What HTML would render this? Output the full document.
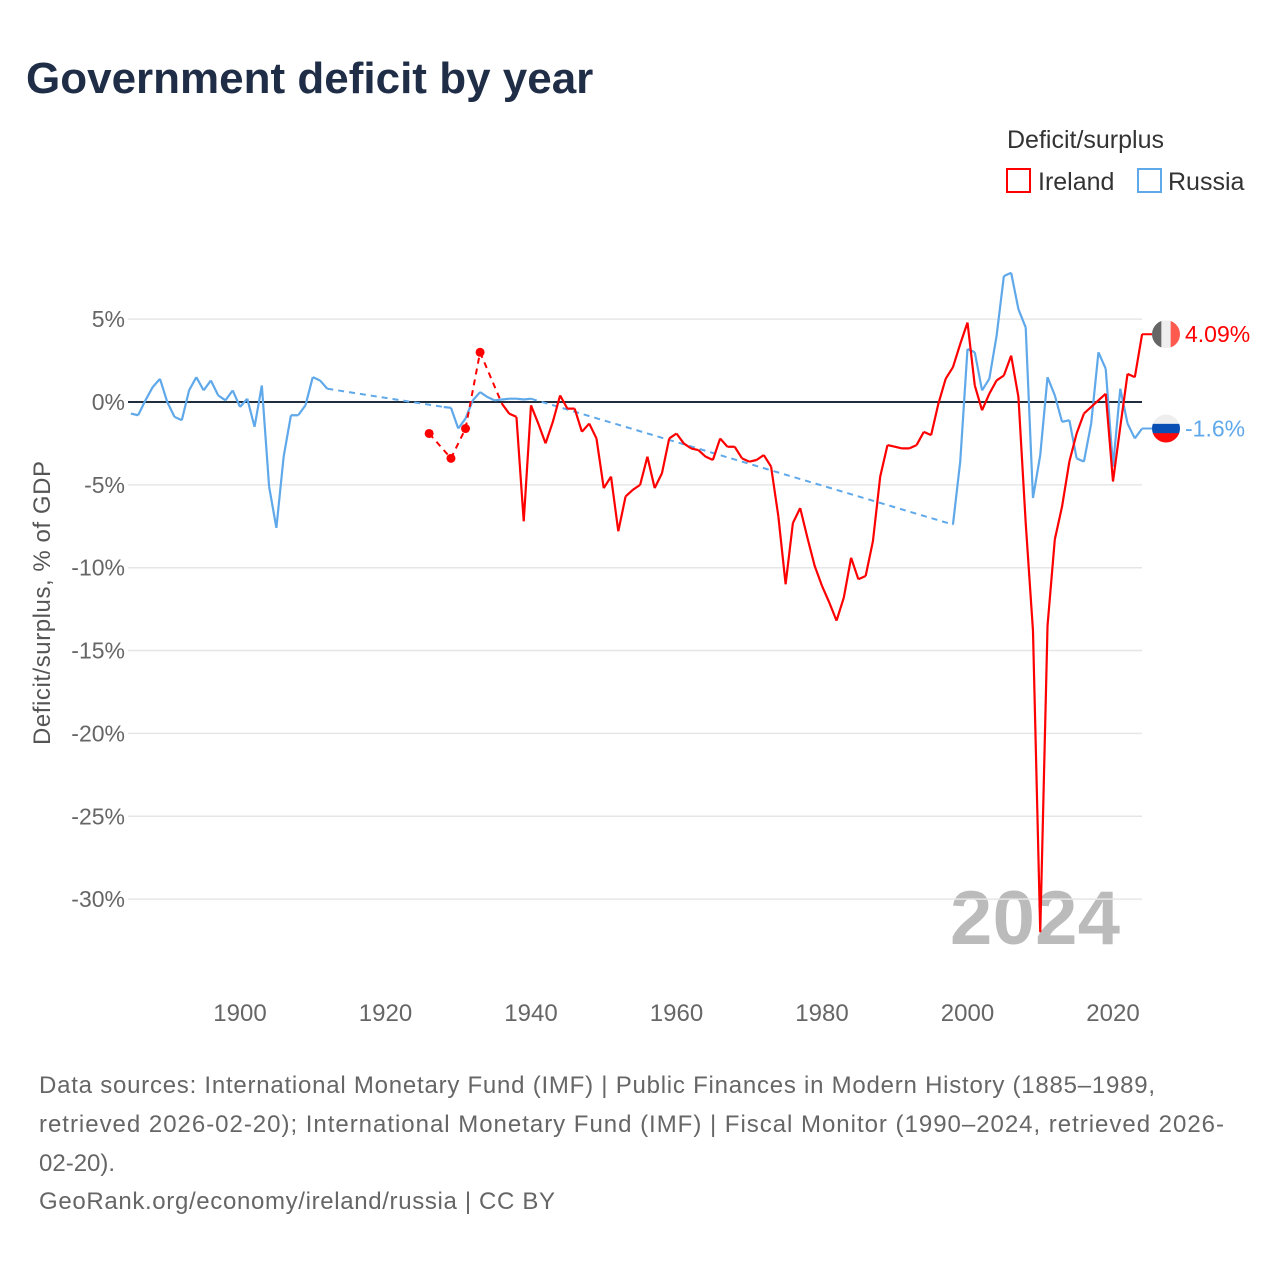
<!DOCTYPE html>
<html><head><meta charset="utf-8"><style>
body{margin:0;background:#fff;font-family:"Liberation Sans",sans-serif;}
#wrap{position:relative;width:1280px;height:1280px;overflow:hidden;}
</style></head><body>
<div id="wrap">
<svg id="chart" width="1280" height="1280" xmlns="http://www.w3.org/2000/svg">
<text x="26" y="93" font-size="44" font-weight="bold" fill="#1f2d46">Government deficit by year</text>
<text x="1007" y="148" font-size="25" fill="#333">Deficit/surplus</text>
<g><rect x="1007" y="169" width="23" height="23" fill="#fff" stroke="#ff0000" stroke-width="2"/><text x="1038" y="190" font-size="25" fill="#333">Ireland</text></g>
<g><rect x="1138" y="169" width="23" height="23" fill="#fff" stroke="#5fa8ea" stroke-width="2"/><text x="1168" y="190" font-size="25" fill="#333">Russia</text></g>
<text transform="translate(50,603) rotate(-90)" text-anchor="middle" font-size="24" fill="#555" textLength="284">Deficit/surplus, % of GDP</text>
<text x="950" y="944" font-size="76" font-weight="bold" fill="#bbb" textLength="170">2024</text>
<g id="grid"></g><g id="series"></g>
<g font-size="24" fill="#666">
<text x="39" y="1093" textLength="1116">Data sources: International Monetary Fund (IMF) | Public Finances in Modern History (1885–1989,</text>
<text x="39" y="1132" textLength="1185">retrieved 2026-02-20); International Monetary Fund (IMF) | Fiscal Monitor (1990–2024, retrieved 2026-</text>
<text x="39" y="1171">02-20).</text>
<text x="39" y="1209" textLength="516">GeoRank.org/economy/ireland/russia | CC BY</text>
</g>
</svg></div>
<script>
const yTicks=[5,0,-5,-10,-15,-20,-25,-30];
const xTicks=[1900,1920,1940,1960,1980,2000,2020];
const russiaYears=[1885,1886,1887,1888,1889,1890,1891,1892,1893,1894,1895,1896,1897,1898,1899,1900,1901,1902,1903,1904,1905,1906,1907,1908,1909,1910,1911,1912,1928,1929,1930,1931,1932,1933,1934,1935,1936,1937,1938,1939,1940,1998,1999,2000,2001,2002,2003,2004,2005,2006,2007,2008,2009,2010,2011,2012,2013,2014,2015,2016,2017,2018,2019,2020,2021,2022,2023,2024];
const russiaValues=[-0.7,-0.8,0.1,0.9,1.4,0,-0.9,-1.1,0.7,1.5,0.7,1.3,0.4,0.1,0.7,-0.3,0.2,-1.5,1.0,-5.1,-7.6,-3.3,-0.8,-0.8,-0.2,1.5,1.3,0.8,-0.3,-0.35,-1.6,-1.0,0.1,0.6,0.3,0.1,0.15,0.2,0.2,0.15,0.2,-7.4,-3.6,3.2,3.0,0.7,1.4,4.0,7.6,7.8,5.6,4.5,-5.8,-3.2,1.5,0.4,-1.2,-1.1,-3.4,-3.6,-1.3,3.0,2.0,-3.9,0.8,-1.3,-2.2,-1.6];
const irelandYears=[1926,1929,1931,1933,1936,1937,1938,1939,1940,1941,1942,1943,1944,1945,1946,1947,1948,1949,1950,1951,1952,1953,1954,1955,1956,1957,1958,1959,1960,1961,1962,1963,1964,1965,1966,1967,1968,1969,1970,1971,1972,1973,1974,1975,1976,1977,1978,1979,1980,1981,1982,1983,1984,1985,1986,1987,1988,1989,1990,1991,1992,1993,1994,1995,1996,1997,1998,1999,2000,2001,2002,2003,2004,2005,2006,2007,2008,2009,2010,2011,2012,2013,2014,2015,2016,2017,2018,2019,2020,2021,2022,2023,2024];
const irelandValues=[-1.9,-3.4,-1.6,3.0,-0.1,-0.7,-0.9,-7.2,-0.2,-1.3,-2.5,-1.2,0.4,-0.4,-0.4,-1.8,-1.3,-2.2,-5.2,-4.5,-7.8,-5.7,-5.3,-5.0,-3.3,-5.2,-4.3,-2.2,-1.9,-2.5,-2.8,-2.9,-3.3,-3.5,-2.2,-2.7,-2.7,-3.4,-3.6,-3.5,-3.2,-3.9,-6.9,-11.0,-7.3,-6.4,-8.2,-9.9,-11.1,-12.1,-13.2,-11.8,-9.4,-10.7,-10.5,-8.4,-4.5,-2.6,-2.7,-2.8,-2.8,-2.6,-1.8,-2.0,-0.1,1.4,2.1,3.5,4.8,1.0,-0.5,0.5,1.3,1.6,2.8,0.3,-7.3,-13.8,-32.0,-13.5,-8.3,-6.3,-3.6,-1.9,-0.7,-0.3,0.1,0.5,-4.8,-1.5,1.7,1.5,4.09];
const NS="http://www.w3.org/2000/svg";
const X=y=>240+(y-1900)*7.275, Y=v=>402-v*16.57;
const L=128,R=1142;
const grid=document.getElementById('grid'), ser=document.getElementById('series');
function mk(t,a,p){const e=document.createElementNS(NS,t);for(const k in a)e.setAttribute(k,a[k]);p.appendChild(e);return e;}
yTicks.forEach(v=>{
 const l=mk('line',{x1:L,x2:R,y1:Y(v),y2:Y(v),stroke:'#e6e6e6','stroke-width':1.5},grid);
 
 
 const t=mk('text',{x:125,y:Y(v)+8,'text-anchor':'end','font-size':23,fill:'#666'},grid);
 t.textContent=v+'%';
 
 
});
xTicks.forEach(y=>{
 const t=mk('text',{x:X(y),y:1021,'text-anchor':'middle','font-size':24,fill:'#666'},grid);
 t.textContent=y;
 
 
});
const z=mk('line',{x1:L,x2:R,y1:Y(0),y2:Y(0),stroke:'#1f2d3d','stroke-width':2},grid);


function draw(years,vals,color,name){
 const g=mk('g',{},ser);
 
 
 let solid='',dashed='';
 for(let i=1;i<years.length;i++){
  const seg=`M${X(years[i-1])},${Y(vals[i-1])}L${X(years[i])},${Y(vals[i])}`;
  if(years[i]-years[i-1]===1)solid+=seg;else dashed+=seg;
 }
 const d=mk('path',{d:dashed,fill:'none',stroke:color,'stroke-width':2,'stroke-dasharray':'6,5'},g);
 
 
 const s=mk('path',{d:solid,fill:'none',stroke:color,'stroke-width':2.2,'stroke-linejoin':'round'},g);
 
 
 for(let i=0;i<years.length;i++){
  const p=years[i-1]===years[i]-1, n=years[i+1]===years[i]+1;
  if(!p&&!n){const c=mk('circle',{cx:X(years[i]),cy:Y(vals[i]),r:4.5,fill:color},g);
   
   }
 }
 return {x:X(years[years.length-1]),y:Y(vals[vals.length-1])};
}
const pr=draw(russiaYears,russiaValues,'#5fa8ea','russia');
const pi=draw(irelandYears,irelandValues,'#ff0000','ireland');
function flag(p,name,cols,label,color,horiz){
 const g=mk('g',{},ser);
 
 
 mk('line',{x1:p.x,x2:1152,y1:p.y,y2:p.y,stroke:color,'stroke-width':2},g);
 const cx=1166,cy=p.y,r=14;
 const id='c'+name;
 const cp=mk('clipPath',{id:id},g);mk('circle',{cx:cx,cy:cy,r:r},cp);
 const fg=mk('g',{'clip-path':`url(#${id})`},g);
 cols.forEach((c,i)=>{
  if(horiz)mk('rect',{x:cx-r,y:cy-r+i*2*r/3,width:2*r,height:2*r/3+0.5,fill:c},fg);
  else mk('rect',{x:cx-r+i*2*r/3,y:cy-r,width:2*r/3+0.5,height:2*r,fill:c},fg);
 });
 const t=mk('text',{x:1185,y:p.y+8,'font-size':23,fill:color},g);
 t.textContent=label;
}
flag(pi,'ireland',['#666','#eee','#ff5a4e'],'4.09%','#ff0000',false);
flag(pr,'russia',['#eee','#0a4fb4','#ff0a0a'],'-1.6%','#5fa8ea',true);
</script>
</body></html>
